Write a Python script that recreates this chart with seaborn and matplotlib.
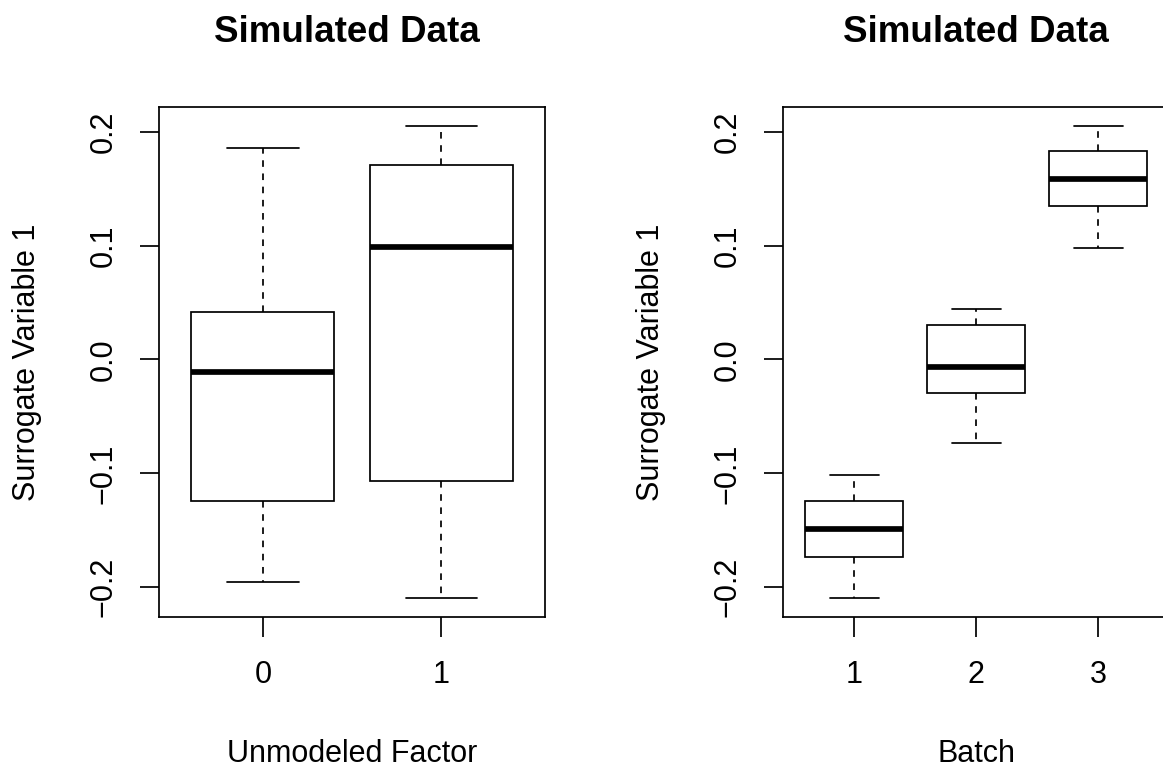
import numpy as np
import pandas as pd
import matplotlib
matplotlib.use("Agg")
import matplotlib.pyplot as plt
import seaborn as sns

# ---- data (five-number summaries) ----
factor_levels = ["0", "1"]
factor_min = [-0.1950, -0.2098]
factor_q1 = [-0.1246, -0.1070]
factor_median = [-0.0106, 0.0985]
factor_q3 = [0.0417, 0.1711]
factor_max = [0.1856, 0.2053]

batch_levels = ["1", "2", "3"]
batch_min = [-0.2098, -0.0731, 0.0980]
batch_q1 = [-0.1735, -0.0299, 0.1343]
batch_median = [-0.1490, -0.0069, 0.1582]
batch_q3 = [-0.1239, 0.0299, 0.1827]
batch_max = [-0.1013, 0.0445, 0.2053]

panel_title = "Simulated Data"
y_label = "Surrogate Variable 1"
factor_label = "Unmodeled Factor"
batch_label = "Batch"
y_ticks = [-0.2, -0.1, 0.0, 0.1, 0.2]


def long_frame(levels, *stats):
    rows = []
    for i, lev in enumerate(levels):
        for s in stats:
            rows.append({"group": lev, "value": s[i]})
    return pd.DataFrame(rows)


factor_df = long_frame(factor_levels, factor_min, factor_q1, factor_median, factor_q3, factor_max)
batch_df = long_frame(batch_levels, batch_min, batch_q1, batch_median, batch_q3, batch_max)

# ---- style ----
sns.set_style("white")
plt.rcParams["font.family"] = ["Liberation Sans", "DejaVu Sans"]
plt.rcParams["axes.unicode_minus"] = True

W, H = 1163, 768
fig = plt.figure(figsize=(W / 100, H / 100), dpi=100)


def axes_px(left, top, right, bottom):
    return fig.add_axes([left / W, 1 - bottom / H, (right - left) / W, (bottom - top) / H])


LW = 1.25
PX = 100 / 72.0
TOP, BOTTOM = 106.7, 617.3


def draw(ax, df, levels, xlabel, title_x, left_px, right_px):
    sns.boxplot(
        data=df, x="group", y="value", order=levels, ax=ax,
        whis=(0, 100), width=0.8, color="white", linecolor="black",
        linewidth=LW, fill=True, saturation=1,
        boxprops=dict(facecolor="white", edgecolor="black", linewidth=LW),
        medianprops=dict(color="black", linewidth=4.1, solid_capstyle="butt"),
        whiskerprops=dict(color="black", linewidth=LW, linestyle=(0, (3.8, 3.8))),
        capprops=dict(color="black", linewidth=LW),
    )
    n = len(levels)
    ax.set_xlim(-0.58, n - 1 + 0.58)
    vals = df["value"]
    lo, hi = vals.min(), vals.max()
    r = hi - lo
    ax.set_ylim(lo - 0.04 * r, hi + 0.04 * r)

    ax.set_yticks(y_ticks)
    ax.set_yticklabels([f"{t:.1f}".replace("-", "\u2212") for t in y_ticks])
    ax.tick_params(axis="both", bottom=True, left=True, length=19.5 / PX, width=LW,
                   color="black", labelsize=22, labelcolor="black", direction="out")
    ax.tick_params(axis="x", pad=17)
    ax.tick_params(axis="y", pad=15)
    for lab in ax.get_yticklabels():
        lab.set_rotation(90)
        lab.set_va("center")
        lab.set_ha("right")

    for sp in ax.spines.values():
        sp.set_visible(True)
        sp.set_color("black")
        sp.set_linewidth(LW)

    width_px = right_px - left_px
    height_px = BOTTOM - TOP
    ax.set_xlabel(xlabel, fontsize=22, color="black", va="baseline")
    ax.xaxis.set_label_coords(0.5, -(762 - BOTTOM) / height_px)
    ax.set_ylabel(y_label, fontsize=22, color="black", va="baseline")
    ax.yaxis.set_label_coords(-124.3 / width_px, 0.5)
    ax.set_title(panel_title, fontsize=26.5, fontweight="bold", pad=(TOP - 42.3) / PX,
                 x=title_x, color="black")
    ax.grid(False)


ax1 = axes_px(159.3, TOP, 545.0, BOTTOM)
draw(ax1, factor_df, factor_levels, factor_label, 0.487, 159.3, 545.0)
ax2 = axes_px(783.3, TOP, 1169.0, BOTTOM)
draw(ax2, batch_df, batch_levels, batch_label, 0.5, 783.3, 1169.0)

fig.savefig("out.png", dpi=100, facecolor="white")
